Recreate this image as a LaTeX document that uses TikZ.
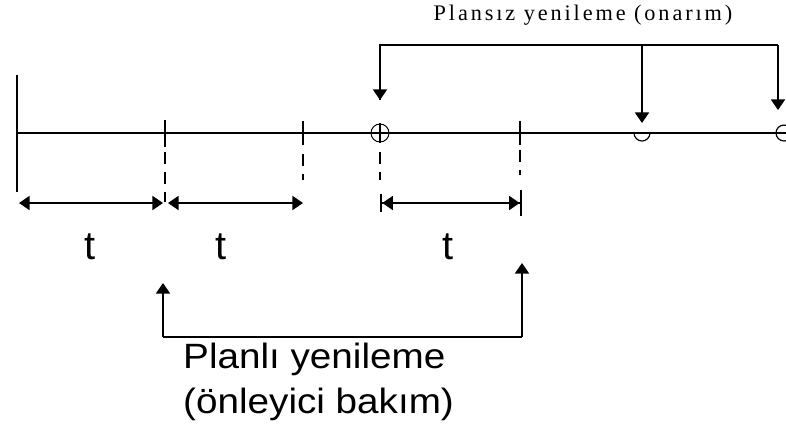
\documentclass[tikz,border=0pt]{standalone}
\usepackage{fontspec}
\usepackage{graphicx}
\setmainfont{Liberation Serif}
\setsansfont{Liberation Sans}
\usetikzlibrary{arrows.meta}

\tikzset{
	axisline/.style={line width=1.3pt},
	tickline/.style={line width=1.3pt},
	guide/.style={line width=1.4pt, dash pattern=on 10pt off 7pt},
	span/.style={line width=1.3pt, {Triangle[width=12pt,length=9pt]}-{Triangle[width=12pt,length=9pt]}},
	pointer/.style={line width=1.2pt, -{Triangle[width=12pt,length=9pt]}},
	tlabel/.style={font=\sffamily\fontsize{34}{36}\selectfont, inner sep=0pt},
	biglabel/.style={font=\sffamily\fontsize{30}{38}\selectfont, inner sep=0pt, align=left},
}

\begin{document}
\begin{tikzpicture}[x=0.03cm,y=-0.03cm]
	\useasboundingbox (0,0) rectangle (786,437);

	% time axis
	\coordinate (o) at (17,133);
	\coordinate (e) at (790,133);
	\draw[axisline] (o) -- (e);
	\draw[axisline] (17,75) -- (17,192);

	% ticks and dashed guides
	\draw[tickline] (165,120) -- (165,147);
	\draw[tickline] (303,121) -- (303,145);
	\draw[tickline] (520,121) -- (520,145);
	\draw[guide] (165,152) -- (165,202);
	\draw[guide] (303,154) -- (303,180);
	\draw[guide] (380,152) -- (380,180);
	\draw[guide] (520,150) -- (520,175);

	% failures on the axis
	\draw[line width=0.8pt] (380,133) circle (9);
	\draw[line width=2.4pt] (380,123) -- (380,143);
	\draw[line width=1pt] (634,133) arc (180:0:8);
	\draw[line width=1pt] (784,133) circle (8);

	% intervals
	\coordinate (a0) at (19,203);
	\coordinate (a1) at (163,203);
	\coordinate (a2) at (168,203);
	\coordinate (a3) at (303,203);
	\coordinate (a4) at (380,203);
	\coordinate (a5) at (522,203);
	\draw[span] (a0) -- (a1);
	\draw[span] (a2) -- (a3);
	\draw[line width=1.3pt, {Bar[width=16pt,line width=2pt]Triangle[width=12pt,length=9pt]}-{Triangle[width=12pt,length=9pt]Bar[width=22pt,line width=2pt]}] (a4) -- (a5);

	\node[tlabel] (t1) at (90,247) {t};
	\node[tlabel] (t2) at (221,247) {t};
	\node[tlabel] (t3) at (448,247) {t};

	% unplanned renewal
	\node[inner sep=0pt, font=\fontsize{19}{21}\selectfont] (unplanned) at (583,15) {\addfontfeature{LetterSpace=13}Plansız yenileme (onarım)};
	\coordinate (u0) at (380,45);
	\coordinate (u1) at (642,45);
	\coordinate (u2) at (778,45);
	\draw[line width=1.2pt] (380,100) -- (u0) -- (u2);
	\draw[pointer] (u0) -- (380,100);
	\draw[pointer] (u1) -- (642,123);
	\draw[pointer] (u2) -- (778,110);

	% planned renewal
	\coordinate (p0) at (163,337);
	\coordinate (p1) at (522,337);
	\draw[line width=1.2pt] (p0) -- (p1);
	\draw[pointer] (p0) -- (163,283);
	\draw[pointer] (p1) -- (522,263);
	\node[biglabel, anchor=north west] (planned) at (183,343) {\scalebox{1.1}[1]{Planlı yenileme}\\\scalebox{1.1}[1]{(önleyici bakım)}};
\end{tikzpicture}
\end{document}
